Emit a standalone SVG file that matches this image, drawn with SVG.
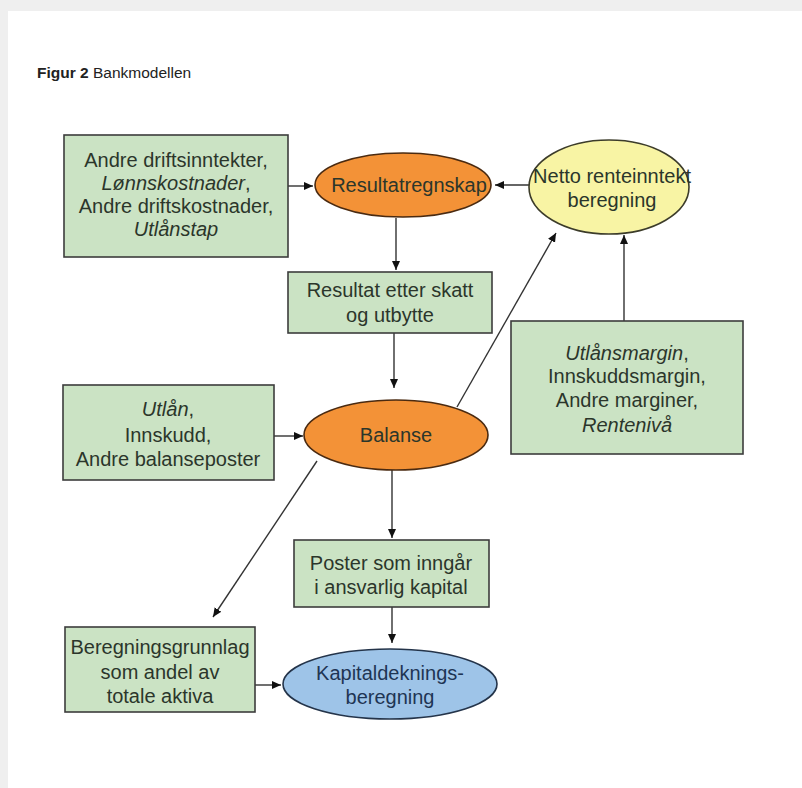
<svg xmlns="http://www.w3.org/2000/svg" width="802" height="788" viewBox="0 0 802 788">
<style>
text{font-family:"Liberation Sans",Arial,sans-serif;font-size:20px;text-anchor:middle;fill:#2b362b}
.box{fill:#cbe3c4;stroke:#3c3c3c;stroke-width:1.6}
.org{fill:#f39237;stroke:#4a2a10;stroke-width:1.6}
.yel{fill:#f8f4a4;stroke:#3c3c2a;stroke-width:1.6}
.blu{fill:#9ec4e8;stroke:#24344a;stroke-width:1.6}
.edge{stroke:#333;stroke-width:1.4;fill:none;marker-end:url(#ah)}
.it{font-style:italic}
</style>
<defs>
<marker id="ah" markerWidth="10" markerHeight="10" refX="9" refY="5" orient="auto" markerUnits="userSpaceOnUse">
<path d="M0,1 L9,5 L0,9 Z" fill="#111"/>
</marker>
</defs>
<rect x="0" y="0" width="802" height="788" fill="#efefef"/>
<rect x="8" y="11" width="794" height="777" fill="#ffffff"/>
<text x="37" y="78" style="text-anchor:start;font-size:15.5px;fill:#222"><tspan font-weight="bold">Figur 2</tspan> Bankmodellen</text>

<g id="connectors">
<line class="edge" x1="288" y1="186" x2="313" y2="186"/>
<line class="edge" x1="529" y1="185" x2="495" y2="185"/>
<line class="edge" x1="396" y1="218" x2="396" y2="270"/>
<line class="edge" x1="394" y1="333" x2="394" y2="388"/>
<line class="edge" x1="274" y1="436" x2="303" y2="436"/>
<line class="edge" x1="457" y1="407" x2="556" y2="233"/>
<line class="edge" x1="624" y1="321" x2="624" y2="235"/>
<line class="edge" x1="317" y1="461" x2="213" y2="617"/>
<line class="edge" x1="392" y1="470" x2="392" y2="538"/>
<line class="edge" x1="392" y1="607" x2="392" y2="643"/>
<line class="edge" x1="255" y1="685" x2="281" y2="685"/>
</g>

<g id="n_andre_drift">
<rect class="box" x="64" y="135" width="224" height="122"/>
<text x="176" y="167">Andre driftsinntekter,</text>
<text x="176" y="190"><tspan class="it">Lønnskostnader</tspan>,</text>
<text x="176" y="213">Andre driftskostnader,</text>
<text x="176" y="236" class="it">Utlånstap</text>
</g>

<g id="n_resultatregnskap">
<ellipse class="org" cx="403" cy="185" rx="88" ry="32"/>
<text x="409" y="192">Resultatregnskap</text>
</g>

<g id="n_netto">
<ellipse class="yel" cx="609" cy="187" rx="80" ry="47"/>
<text x="612" y="183">Netto renteinntekt</text>
<text x="612" y="207">beregning</text>
</g>

<g id="n_resultat_etter">
<rect class="box" x="288" y="272" width="204" height="61"/>
<text x="390" y="297">Resultat etter skatt</text>
<text x="390" y="322">og utbytte</text>
</g>

<g id="n_utlan">
<rect class="box" x="63" y="385" width="211" height="95"/>
<text x="168" y="416"><tspan class="it">Utlån</tspan>,</text>
<text x="168" y="442">Innskudd,</text>
<text x="168" y="466">Andre balanseposter</text>
</g>

<g id="n_balanse">
<ellipse class="org" cx="396" cy="435" rx="92" ry="35"/>
<text x="396" y="442">Balanse</text>
</g>

<g id="n_margin">
<rect class="box" x="511" y="321" width="232" height="133"/>
<text x="627" y="360"><tspan class="it">Utlånsmargin</tspan>,</text>
<text x="627" y="383">Innskuddsmargin,</text>
<text x="627" y="407">Andre marginer,</text>
<text x="627" y="432" class="it">Rentenivå</text>
</g>

<g id="n_poster">
<rect class="box" x="294" y="540" width="195" height="67"/>
<text x="391" y="570">Poster som inngår</text>
<text x="391" y="594">i ansvarlig kapital</text>
</g>

<g id="n_beregning">
<rect class="box" x="65" y="627" width="190" height="85"/>
<text x="160" y="654">Beregningsgrunnlag</text>
<text x="160" y="679">som andel av</text>
<text x="160" y="703">totale aktiva</text>
</g>

<g id="n_kapital">
<ellipse class="blu" cx="390" cy="684" rx="107" ry="35"/>
<text x="390" y="680" style="fill:#1e3554">Kapitaldeknings-</text>
<text x="390" y="704" style="fill:#1e3554">beregning</text>
</g>
</svg>
